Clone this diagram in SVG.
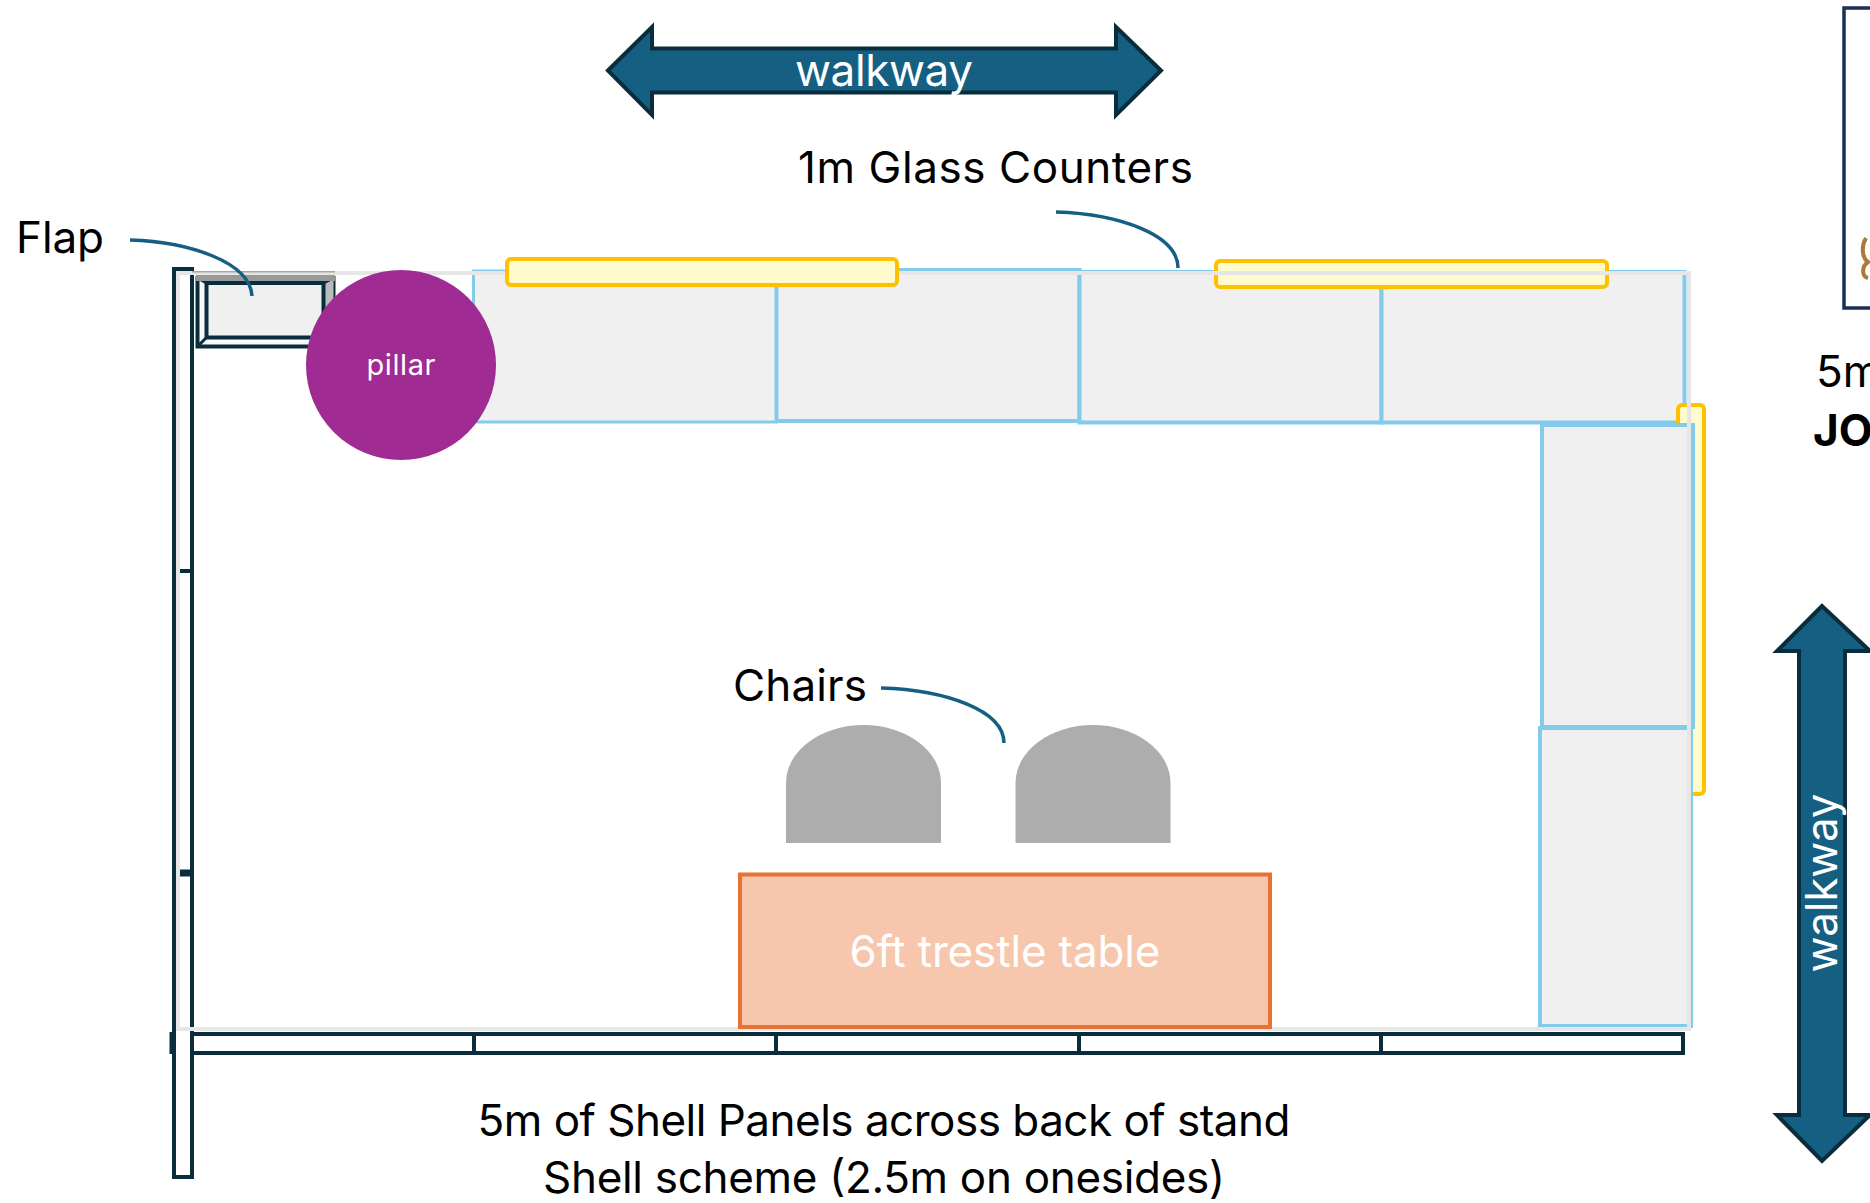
<svg xmlns="http://www.w3.org/2000/svg" width="1870" height="1203" viewBox="0 0 1870 1203">
<style>
.t{font-family:"Inter","Noto Sans",sans-serif;font-size:44px;fill:#000}
.w{fill:#fff}
.arrow{fill:#156082;stroke:#0a2d3e;stroke-width:4}
.wall{fill:#fff;stroke:#0a2d3e;stroke-width:4}
.panel{fill:#f0f0f0;stroke:#83cbeb;stroke-width:4}
.glass{fill:#fffbcc;stroke:#ffc000;stroke-width:4}
.chair{fill:#adadad}
.call{fill:none;stroke:#156082;stroke-width:3.5}
</style>
<rect width="1870" height="1203" fill="#fff"/>
<g id="walls">
<rect class="wall" x="174" y="269" width="18" height="908"/>
<rect class="wall" x="192" y="1034" width="1491" height="19"/>
<path d="M474 1034V1053M776 1034V1053M1079 1034V1053M1381 1034V1053" stroke="#0a2d3e" stroke-width="4"/>
<path d="M172 571H192" stroke="#0a2d3e" stroke-width="4"/>
<path d="M172 873H192" stroke="#0a2d3e" stroke-width="7"/>
<path d="M172 1032V1054" stroke="#0a2d3e" stroke-width="5"/>
</g>
<g id="panels">
<rect class="panel" x="473.5" y="271" width="303" height="151" style="stroke-width:3"/>
<rect class="panel" x="776.5" y="270" width="303" height="151"/>
<rect class="panel" x="1079.5" y="272" width="302" height="150.5"/>
<rect class="panel" x="1381.5" y="272" width="303" height="150.5"/>
</g>
<g id="glass-counter-2">
<rect class="glass" x="1216" y="261" width="391" height="26" rx="4"/>
</g>
<g id="glass-counter-3">
<rect class="glass" x="1678" y="405" width="26" height="389" rx="4"/>
</g>
<g id="side-panels">
<rect class="panel" x="1542" y="425" width="151" height="302"/>
<rect class="panel" x="1540" y="728" width="151" height="298"/>
</g>
<g id="flap">
<rect x="197.5" y="278" width="136" height="68.5" fill="#f8f8f8" stroke="#0a2d3e" stroke-width="4"/>
<path d="M333.5 278V346.5L323.5 337.5V283Z" fill="#bbb"/>
<rect x="206.5" y="283" width="117" height="54.5" fill="#f0f0f0" stroke="#0a2d3e" stroke-width="4"/>
<path d="M197.5 278L206.5 283M333.5 278L323.5 283M197.5 346.5L206.5 337.5M333.5 346.5L323.5 337.5" stroke="#0a2d3e" stroke-width="3"/>
</g>
<rect id="stand-outline" x="178" y="273" width="1511" height="756" fill="none" stroke="#e7e6e6" stroke-width="4"/>
<g id="flap-top">
<rect x="196" y="275" width="139" height="6" fill="#999"/>
<rect x="192" y="271" width="143" height="1.5" fill="#a6a6a6"/>
</g>
<g id="glass-counter-1">
<rect class="glass" x="507" y="259" width="390" height="26" rx="4"/>
</g>
<g id="pillar">
<circle cx="401" cy="365" r="95" fill="#a02b93"/>
<text class="t w" x="401" y="375" text-anchor="middle" textLength="69" style="font-size:29px">pillar</text>
</g>
<g id="table">
<rect x="740" y="874.5" width="530" height="152.5" fill="#f6c6ad" stroke="#e97132" stroke-width="4"/>
<text class="t w" x="1005" y="967" text-anchor="middle" textLength="311">6ft trestle table</text>
</g>
<g id="chair-1"><path class="chair" d="M786 843V783A77.5 58 0 0 1 941 783V843Z"/></g>
<g id="chair-2"><path class="chair" d="M1015.5 843V783A77.5 58 0 0 1 1170.5 783V843Z"/></g>
<g id="walkway-top">
<path class="arrow" d="M608 70.5L652 27V48.5H1116V27L1161 70.5L1116 115V92.5H652V115Z"/>
<text class="t w" x="884" y="86" text-anchor="middle" textLength="178">walkway</text>
</g>
<g id="walkway-right">
<path class="arrow" d="M1822 606L1777 651H1799V1115H1777L1822 1161L1870 1115H1845V651H1870Z"/>
<text class="t w" transform="translate(1837 883) rotate(-90)" text-anchor="middle" textLength="179">walkway</text>
</g>
<g id="connectors">
<path class="call" d="M130 240C190 242 250 262 252 296"/>
<path class="call" d="M1056 212C1120 214 1178 235 1178 268"/>
<path class="call" d="M881 688C945 690 1004 710 1004 743"/>
</g>
<g id="labels">
<text class="t" x="16" y="253" textLength="88">Flap</text>
<text class="t" x="798" y="183" textLength="395">1m Glass Counters</text>
<text class="t" x="733" y="701" textLength="134">Chairs</text>
<text class="t" x="884" y="1136" text-anchor="middle" textLength="813">5m of Shell Panels across back of stand</text>
<text class="t" x="884" y="1193" text-anchor="middle" textLength="682">Shell scheme (2.5m on onesides)</text>
</g>
<g id="side-card">
<rect x="1844" y="8" width="40" height="300" fill="#fff" stroke="#1a2f56" stroke-width="3.5"/>
<path d="M1866 238C1861 246 1862 258 1868 262C1862 266 1861 276 1868 278" fill="none" stroke="#a87a3c" stroke-width="4"/>
<text class="t" x="1816" y="387">5m</text>
<text class="t" x="1813" y="446" style="font-weight:700">JO</text>
</g>
</svg>
